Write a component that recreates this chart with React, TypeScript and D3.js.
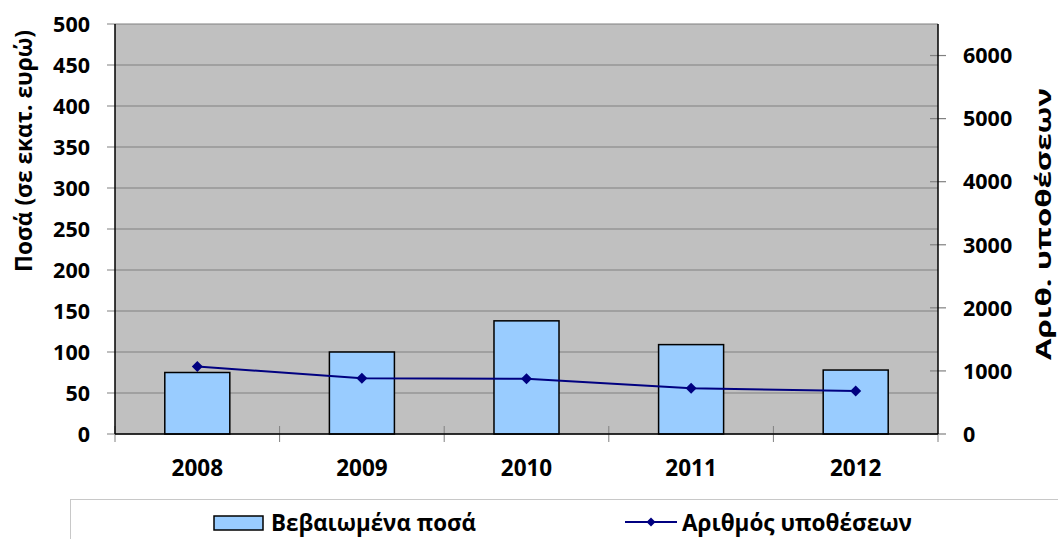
import React from 'react';
import * as d3 from 'd3';

const years = ['2008', '2009', '2010', '2011', '2012'];
const amounts = [75, 100, 138, 109, 78];
const cases = [1070, 885, 875, 725, 680];
const leftTicks = [0, 50, 100, 150, 200, 250, 300, 350, 400, 450, 500];
const rightTicks = [0, 1000, 2000, 3000, 4000, 5000, 6000];

const W = 1058;
const H = 539;
const margin = { top: 24, right: 120, bottom: 105, left: 115 };
const font = '"Open Sans", sans-serif';

export default function App() {
  const x = d3
    .scaleBand<string>()
    .domain(years)
    .range([margin.left, W - margin.right])
    .padding(0);
  const yL = d3.scaleLinear().domain([0, 500]).range([H - margin.bottom, margin.top]);
  const yR = d3.scaleLinear().domain([0, 6500]).range([H - margin.bottom, margin.top]);

  const plotL = margin.left;
  const plotR = W - margin.right;
  const plotT = margin.top;
  const plotB = H - margin.bottom;
  const barW = x.bandwidth() * 0.395;
  const cx = (d: string) => (x(d) || 0) + x.bandwidth() / 2;

  const line = d3
    .line<number>()
    .x((_, i) => cx(years[i]))
    .y(d => yR(d));

  const diamond = (px: number, py: number, r = 5.5) =>
    `M${px},${py - r}L${px + r},${py}L${px},${py + r}L${px - r},${py}Z`;

  return (
    <div style={{ position: 'absolute', left: 0, top: 0 }}>
      <svg width={W} height={H} style={{ display: 'block', fontFamily: font }}>
        <rect x={0} y={0} width={W} height={H} fill="#fff" />
        {/* plot area */}
        <rect x={plotL} y={plotT} width={plotR - plotL} height={plotB - plotT} fill="#c0c0c0" />
        {leftTicks.map(t => (
          <line key={'g' + t} x1={plotL - 8} x2={plotR} y1={yL(t)} y2={yL(t)} stroke="#808080" strokeWidth={1.2} />
        ))}
        {rightTicks.map(t => (
          <line key={'r' + t} x1={plotR - 8} x2={plotR + 8} y1={yR(t)} y2={yR(t)} stroke="#808080" strokeWidth={1.2} />
        ))}
        {years.map(y => (
          <line key={'c' + y} x1={x(y) || 0} x2={x(y) || 0} y1={plotB - 8} y2={plotB + 8} stroke="#808080" strokeWidth={1} />
        ))}
        <line x1={plotR} x2={plotR} y1={plotB} y2={plotB + 8} stroke="#808080" strokeWidth={1} />

        {/* bars */}
        {years.map((y, i) => (
          <rect
            key={'b' + y}
            x={cx(y) - barW / 2}
            y={yL(amounts[i])}
            width={barW}
            height={plotB - yL(amounts[i])}
            fill="#99ccff"
            stroke="#000"
            strokeWidth={1.5}
          />
        ))}

        {/* axes */}
        <line x1={plotL} x2={plotL} y1={plotT} y2={plotB} stroke="#000" strokeWidth={1.5} />
        <line x1={plotR} x2={plotR} y1={plotT} y2={plotB} stroke="#000" strokeWidth={1.5} />
        <line x1={plotL} x2={plotR} y1={plotB} y2={plotB} stroke="#000" strokeWidth={1.5} />

        {/* line series */}
        <path d={line(cases) || ''} fill="none" stroke="#000080" strokeWidth={2} />
        {cases.map((c, i) => (
          <path key={'m' + i} d={diamond(cx(years[i]), yR(c))} fill="#000080" />
        ))}

        {/* tick labels */}
        {leftTicks.map(t => (
          <text key={'lt' + t} x={90} y={yL(t)} dy="0.36em" textAnchor="end" fontSize={21.5} fontWeight="bold">
            {t}
          </text>
        ))}
        {rightTicks.map(t => (
          <text key={'rt' + t} x={963} y={yR(t)} dy="0.36em" textAnchor="start" fontSize={21.5} fontWeight="bold">
            {t}
          </text>
        ))}
        {years.map(y => (
          <text key={'yl' + y} x={cx(y)} y={468} dy="0.36em" textAnchor="middle" fontSize={22.5} fontWeight="bold">
            {y}
          </text>
        ))}

        {/* axis titles */}
        <text
          transform="translate(24,151) rotate(-90)"
          textAnchor="middle"
          dy="0.36em"
          fontSize={23}
          fontWeight="bold"
          textLength={242}
          lengthAdjust="spacingAndGlyphs"
        >
          Ποσά (σε εκατ. ευρώ)
        </text>
        <text
          transform="translate(1043,224) rotate(-90)"
          textAnchor="middle"
          dy="0.36em"
          fontSize={22}
          fontWeight="bold"
          textLength={272}
          lengthAdjust="spacingAndGlyphs"
        >
          Αριθ. υποθέσεων
        </text>

        {/* legend */}
        <rect x={70.5} y={499.5} width={1000} height={60} fill="#fff" stroke="#c8c8c8" strokeWidth={1} />
        <rect x={214} y={516} width={49} height={14} fill="#99ccff" stroke="#000" strokeWidth={1.5} />
        <text x={271} y={523} dy="0.36em" fontSize={22.5} fontWeight="bold" textLength={205} lengthAdjust="spacingAndGlyphs">
          Βεβαιωμένα ποσά
        </text>
        <line x1={625} x2={677} y1={522} y2={522} stroke="#000080" strokeWidth={2} />
        <path d={diamond(651, 522, 4.5)} fill="#000080" />
        <text x={682} y={523} dy="0.36em" fontSize={22.5} fontWeight="bold" textLength={230} lengthAdjust="spacingAndGlyphs">
          Αριθμός υποθέσεων
        </text>
      </svg>
    </div>
  );
}
